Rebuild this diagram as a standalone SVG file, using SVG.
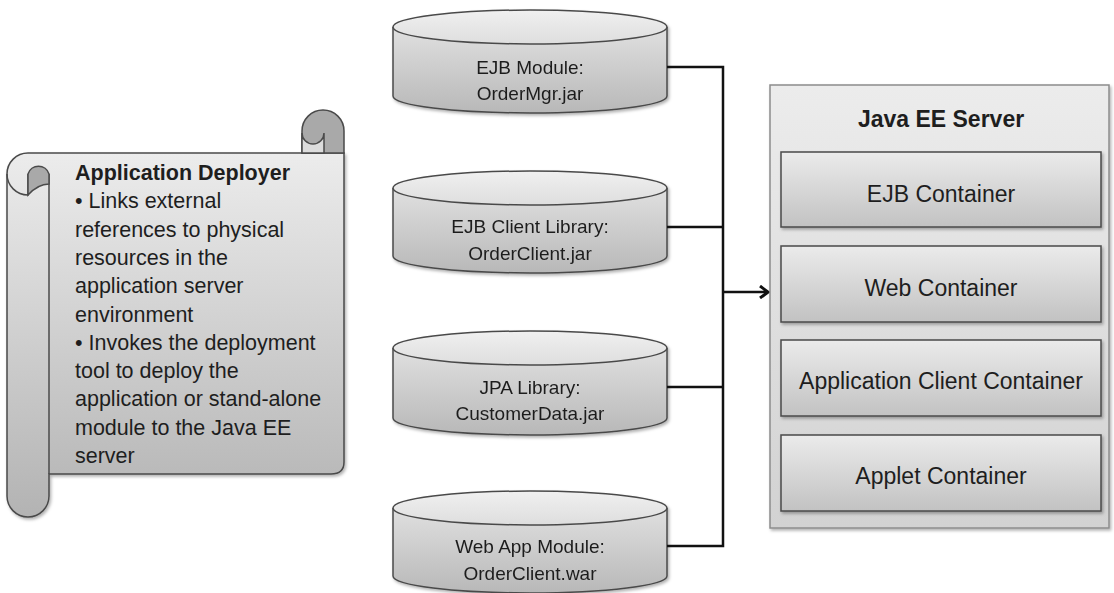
<svg xmlns="http://www.w3.org/2000/svg" width="1114" height="593" viewBox="0 0 1114 593">
<defs>
<linearGradient id="gBody" x1="0" y1="0" x2="0" y2="1">
<stop offset="0" stop-color="#ececec"/><stop offset="1" stop-color="#b3b3b3"/>
</linearGradient>
<linearGradient id="gCylSide" x1="0" y1="0" x2="0" y2="1">
<stop offset="0" stop-color="#e0e0e0"/><stop offset="1" stop-color="#b8b8b8"/>
</linearGradient>
<linearGradient id="gCylTop" x1="0" y1="0" x2="0" y2="1">
<stop offset="0" stop-color="#f0f0f0"/><stop offset="1" stop-color="#dedede"/>
</linearGradient>
<linearGradient id="gPanel" x1="0" y1="0" x2="0" y2="1">
<stop offset="0" stop-color="#ececec"/><stop offset="1" stop-color="#d2d2d2"/>
</linearGradient>
<linearGradient id="gBox" x1="0" y1="0" x2="0" y2="1">
<stop offset="0" stop-color="#ebebeb"/><stop offset="1" stop-color="#c2c2c2"/>
</linearGradient>
<filter id="sh" x="-10%" y="-10%" width="130%" height="130%">
<feDropShadow dx="1.5" dy="2" stdDeviation="1.5" flood-color="#000" flood-opacity="0.3"/>
</filter>
<marker id="arr" markerWidth="12" markerHeight="14" refX="10" refY="7" orient="auto" markerUnits="userSpaceOnUse">
<polyline points="2,1 10,7 2,13" fill="none" stroke="#111" stroke-width="3"/>
</marker>
</defs>
<style>
.ln{fill:none;stroke:#111;stroke-width:2.5}
.st{stroke:#4a4a4a;stroke-width:1.5}
.t{font-family:"Liberation Sans",Arial,sans-serif;fill:#1e1e1e}
.cyl{font-size:19px;text-anchor:middle}
.box{font-size:23px;text-anchor:middle}
.scr{font-size:21.5px}
</style>

<g id="deployer">
<path d="M7,174 A21,21 0 0 1 28,153 H344 V462 Q344,474 331,474 H49 V496 A21,21 0 0 1 7,496 Z" fill="url(#gBody)" class="st" filter="url(#sh)"/>
<path d="M49,174 V474" fill="none" class="st"/>
<path d="M7,174 A21,21 0 0 0 28,195 V174" fill="none" class="st"/>
<path d="M28,195 V174 A11,11 0 0 1 49,174 V184 Q38,184 28,195 Z" fill="#a9a9a9" class="st"/>
<path d="M302,153 V131 A21,21 0 0 1 344,131 V153 Z" fill="#a9a9a9" class="st"/>
<path d="M302,153 V133 A11,11 0 0 0 324,133 V153 Z" fill="#dcdcdc" class="st"/>
<text class="t scr" x="75" y="180" font-weight="bold" font-size="20px">Application Deployer</text>
<text class="t scr" x="75" y="208.3">• Links external</text>
<text class="t scr" x="75" y="236.6">references to physical</text>
<text class="t scr" x="75" y="264.9">resources in the</text>
<text class="t scr" x="75" y="293.2">application server</text>
<text class="t scr" x="75" y="321.5">environment</text>
<text class="t scr" x="75" y="349.8">• Invokes the deployment</text>
<text class="t scr" x="75" y="378.1">tool to deploy the</text>
<text class="t scr" x="75" y="406.4">application or stand-alone</text>
<text class="t scr" x="75" y="434.7">module to the Java EE</text>
<text class="t scr" x="75" y="463">server</text>
</g>

<g id="ejb-module" filter="url(#sh)">
<path d="M393,27 V96 A137,17 0 0 0 667,96 V27" fill="url(#gCylSide)" class="st"/>
<ellipse cx="530" cy="27" rx="137" ry="17" fill="url(#gCylTop)" class="st"/>
<text class="t cyl" x="530" y="74">EJB Module:</text>
<text class="t cyl" x="530" y="100">OrderMgr.jar</text>
</g>
<g id="ejb-client" filter="url(#sh)">
<path d="M393,188 V256 A137,17 0 0 0 667,256 V188" fill="url(#gCylSide)" class="st"/>
<ellipse cx="530" cy="188" rx="137" ry="17" fill="url(#gCylTop)" class="st"/>
<text class="t cyl" x="530" y="233">EJB Client Library:</text>
<text class="t cyl" x="530" y="260">OrderClient.jar</text>
</g>
<g id="jpa-library" filter="url(#sh)">
<path d="M393,348 V418 A137,17 0 0 0 667,418 V348" fill="url(#gCylSide)" class="st"/>
<ellipse cx="530" cy="348" rx="137" ry="17" fill="url(#gCylTop)" class="st"/>
<text class="t cyl" x="530" y="394">JPA Library:</text>
<text class="t cyl" x="530" y="420">CustomerData.jar</text>
</g>
<g id="web-app" filter="url(#sh)">
<path d="M393,508 V576 A137,17 0 0 0 667,576 V508" fill="url(#gCylSide)" class="st"/>
<ellipse cx="530" cy="508" rx="137" ry="17" fill="url(#gCylTop)" class="st"/>
<text class="t cyl" x="530" y="553">Web App Module:</text>
<text class="t cyl" x="530" y="580">OrderClient.war</text>
</g>

<g id="connectors">
<path class="ln" d="M667,67 H723 M667,227 H723 M667,387 H723 M667,546 H723 M723,65.8 V547.2"/>
<path class="ln" d="M723,292 H768" marker-end="url(#arr)"/>
</g>

<g id="java-ee-server">
<rect x="770" y="85" width="339" height="443" fill="url(#gPanel)" stroke="#8c8c8c" stroke-width="1.5" filter="url(#sh)"/>
<text class="t box" x="941" y="127" font-weight="bold" font-size="22px">Java EE Server</text>
</g>
<g id="ejb-container">
<rect x="781" y="152" width="320" height="75" fill="url(#gBox)" class="st" filter="url(#sh)"/>
<text class="t box" x="941" y="202">EJB Container</text>
</g>
<g id="web-container">
<rect x="781" y="246" width="320" height="76" fill="url(#gBox)" class="st" filter="url(#sh)"/>
<text class="t box" x="941" y="296">Web Container</text>
</g>
<g id="app-client-container">
<rect x="781" y="340" width="320" height="76" fill="url(#gBox)" class="st" filter="url(#sh)"/>
<text class="t box" x="941" y="389">Application Client Container</text>
</g>
<g id="applet-container">
<rect x="781" y="435" width="320" height="76" fill="url(#gBox)" class="st" filter="url(#sh)"/>
<text class="t box" x="941" y="484">Applet Container</text>
</g>
</svg>
